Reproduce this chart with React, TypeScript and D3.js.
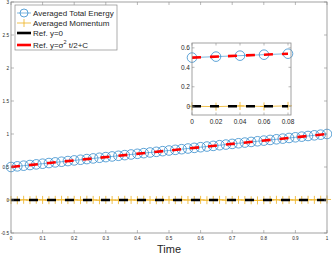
import React from "react";
import * as d3 from "d3";

// sample times (step 0.02)
const times = [
  0, 0.02, 0.04, 0.06, 0.08, 0.1, 0.12, 0.14, 0.16, 0.18, 0.2, 0.22, 0.24, 0.26, 0.28, 0.3, 0.32,
  0.34, 0.36, 0.38, 0.4, 0.42, 0.44, 0.46, 0.48, 0.5, 0.52, 0.54, 0.56, 0.58, 0.6, 0.62, 0.64,
  0.66, 0.68, 0.7, 0.72, 0.74, 0.76, 0.78, 0.8, 0.82, 0.84, 0.86, 0.88, 0.9, 0.92, 0.94, 0.96,
  0.98, 1,
];
const energy = [
  0.5, 0.51, 0.52, 0.53, 0.54, 0.55, 0.56, 0.57, 0.58, 0.59, 0.6, 0.61, 0.62, 0.63, 0.64, 0.65,
  0.66, 0.67, 0.68, 0.69, 0.7, 0.71, 0.72, 0.73, 0.74, 0.75, 0.76, 0.77, 0.78, 0.79, 0.8, 0.81,
  0.82, 0.83, 0.84, 0.85, 0.86, 0.87, 0.88, 0.89, 0.9, 0.91, 0.92, 0.93, 0.94, 0.95, 0.96, 0.97,
  0.98, 0.99, 1.0,
];
const momentum = [
  0, -0.004, 0.003, -0.002, 0.004, 0.001, -0.003, 0.002, 0.003, -0.001, 0.002, -0.002, 0.004,
  0.001, -0.003, 0.002, 0.0, -0.002, 0.003, 0.001, -0.002, 0.003, 0.0, -0.003, 0.002, 0.001,
  -0.002, 0.003, 0.0, -0.001, 0.002, -0.003, 0.001, 0.003, -0.002, 0.0, 0.002, -0.001, -0.004,
  -0.006, -0.003, 0.001, 0.003, -0.002, 0.002, 0.0, -0.001, 0.003, 0.002, 0.004, 0.008,
];
const refZero = [[0, 0], [1, 0]];
const refEnergy = [[0, 0.5], [1, 1.0]];

const xTicks = [0, 0.1, 0.2, 0.3, 0.4, 0.5, 0.6, 0.7, 0.8, 0.9, 1];
const yTicks = [-0.5, 0, 0.5, 1, 1.5, 2, 2.5, 3];
const insetXTicks = [0, 0.02, 0.04, 0.06, 0.08];
const insetYTicks = [0, 0.2, 0.4, 0.6];

const blue = "#2A86CA";
const orange = "#EDB120";
const axisCol = "#8a8a8a";
const font = "Liberation Sans, Arial, sans-serif";

function Panel({ x, y, xt, yt, xFmt, yFmt, fs, tk, r, plus, clipId }) {
  const w = x.range()[1] - x.range()[0];
  const h = y.range()[0] - y.range()[1];
  const x0 = x.range()[0], y0 = y.range()[1];
  const pts = times.map((t, i) => ({ t, e: energy[i], m: momentum[i] }))
    .filter((d) => d.t <= x.domain()[1] + 1e-9);
  const line = d3.line().x((d) => x(d[0])).y((d) => y(d[1]));
  const refEnd = x.domain()[1] < 1 ? 0.08 : 1;
  const clipRef = (arr) => arr.map((p) => [Math.min(p[0], refEnd), p[1] + (Math.min(p[0], refEnd) - p[0]) * (arr[1][1] - arr[0][1])]);
  return (
    <g>
      <defs>
        <clipPath id={clipId}><rect x={x0} y={y0} width={w} height={h} /></clipPath>
      </defs>
      <rect x={x0} y={y0} width={w} height={h} fill="white" />
      <path d={line(pts.map((d) => [d.t, d.e]))} fill="none" stroke={blue} strokeWidth={0.6} clipPath={`url(#${clipId})`} />
      {pts.map((d, i) => (
        <circle key={"c" + i} cx={x(d.t)} cy={y(d.e)} r={r} fill="none" stroke={blue} strokeWidth={0.75} />
      ))}
      <path d={line(pts.map((d) => [d.t, d.m]))} fill="none" stroke={orange} strokeWidth={0.8} clipPath={`url(#${clipId})`} />
      {pts.map((d, i) => (
        <g key={"p" + i} stroke={orange} strokeWidth={0.8}>
          <line x1={x(d.t) - plus} x2={x(d.t) + plus} y1={y(d.m)} y2={y(d.m)} />
          <line x1={x(d.t)} x2={x(d.t)} y1={y(d.m) - plus} y2={y(d.m) + plus} />
        </g>
      ))}
      <g clipPath={`url(#${clipId})`}>
        <path d={line(clipRef(refZero))} fill="none" stroke="black" strokeWidth={2.6} strokeDasharray="9,9" />
        <path d={line(clipRef(refEnergy))} fill="none" stroke="red" strokeWidth={2.6} strokeDasharray="9,9" />
      </g>
      <rect x={x0} y={y0} width={w} height={h} fill="none" stroke={axisCol} strokeWidth={0.8} />
      {xt.map((t) => (
        <g key={"xt" + t}>
          <line x1={x(t)} x2={x(t)} y1={y0 + h} y2={y0 + h - tk} stroke={axisCol} strokeWidth={0.6} />
          <line x1={x(t)} x2={x(t)} y1={y0} y2={y0 + tk} stroke={axisCol} strokeWidth={0.6} />
          <text x={x(t)} y={y0 + h + fs + 2} fontSize={fs} textAnchor="middle" fill="#262626" fontFamily={font}>{xFmt(t)}</text>
        </g>
      ))}
      {yt.map((t) => (
        <g key={"yt" + t}>
          <line x1={x0} x2={x0 + tk} y1={y(t)} y2={y(t)} stroke={axisCol} strokeWidth={0.6} />
          <line x1={x0 + w} x2={x0 + w - tk} y1={y(t)} y2={y(t)} stroke={axisCol} strokeWidth={0.6} />
          <text x={x0 - 2} y={y(t) + fs * 0.35} fontSize={fs} textAnchor="end" fill="#262626" fontFamily={font}>{yFmt(t)}</text>
        </g>
      ))}
    </g>
  );
}

export default function App() {
  const x = d3.scaleLinear().domain([0, 1]).range([11, 327]);
  const y = d3.scaleLinear().domain([-0.5, 3]).range([233, 2]);
  const xi = d3.scaleLinear().domain([0, 0.0825]).range([192, 291]);
  const yi = d3.scaleLinear().domain([-0.09, 0.65]).range([115, 43]);
  const legend = [
    { label: "Averaged Total Energy", kind: "circle" },
    { label: "Averaged Momentum", kind: "plus" },
    { label: "Ref. y=0", kind: "black" },
    { label: "Ref. y=σ", kind: "red" },
  ];
  const ly = [13, 23, 33, 45];
  return (
    <svg width={332} height={254} style={{ position: "absolute", left: 0, top: 0, background: "white" }}>
      <rect width={332} height={254} fill="white" />
      <Panel x={x} y={y} xt={xTicks} yt={yTicks} xFmt={(t) => String(t)} yFmt={(t) => String(t)}
        fs={4.6} tk={3} r={4.8} plus={4} clipId="mainclip" />
      <text x={169} y={253} fontSize={11} textAnchor="middle" fill="#262626" fontFamily={font}>Time</text>
      {/* legend */}
      <rect x={15} y={5} width={102} height={45} fill="white" stroke={axisCol} strokeWidth={0.7} />
      {legend.map((d, i) => (
        <g key={d.label}>
          {d.kind === "circle" && (
            <g>
              <line x1={17} x2={31} y1={ly[i]} y2={ly[i]} stroke={blue} strokeWidth={0.6} />
              <circle cx={24} cy={ly[i]} r={4} fill="none" stroke={blue} strokeWidth={0.75} />
            </g>
          )}
          {d.kind === "plus" && (
            <g stroke={orange} strokeWidth={0.8}>
              <line x1={17} x2={31} y1={ly[i]} y2={ly[i]} />
              <line x1={24} x2={24} y1={ly[i] - 4} y2={ly[i] + 4} />
            </g>
          )}
          {d.kind === "black" && <line x1={17} x2={31} y1={ly[i]} y2={ly[i]} stroke="black" strokeWidth={2.6} />}
          {d.kind === "red" && <line x1={17} x2={31} y1={ly[i]} y2={ly[i]} stroke="red" strokeWidth={2.6} />}
          <text x={33} y={ly[i] + 2.8} fontSize={8} fill="#262626" fontFamily={font}>
            {d.label}
            {d.kind === "red" && (
              <>
                <tspan dy={-3.5} fontSize={5.5}>2</tspan>
                <tspan dy={3.5}> t/2+C</tspan>
              </>
            )}
          </text>
        </g>
      ))}
      <Panel x={xi} y={yi} xt={insetXTicks} yt={insetYTicks}
        xFmt={(t) => (t === 0 ? "0" : t.toFixed(2))} yFmt={(t) => (t === 0 ? "0" : t.toFixed(1))}
        fs={6.5} tk={2.5} r={4.8} plus={4} clipId="insetclip" />
    </svg>
  );
}
